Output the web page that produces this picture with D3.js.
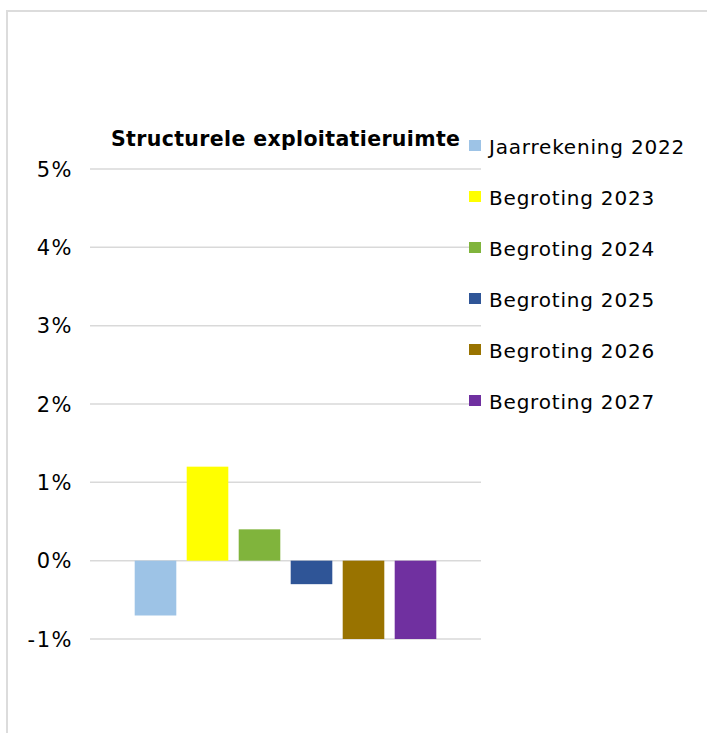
<!DOCTYPE html>
<meta charset="utf-8">

<!-- Load d3.js -->
<script src="https://d3js.org/d3.v7.min.js"></script>

<style>
body { margin: 0; background: #fff; }
text { font-family: "DejaVu Sans", Verdana, sans-serif; fill: #000; }
.grid line { stroke: #d9d9d9; stroke-width: 1.5px; }
</style>

<!-- Create a div where the graph will take place -->
<div id="my_dataviz"></div>

<script>

// data
var title = "Structurele exploitatieruimte"
var series = ["Jaarrekening 2022", "Begroting 2023", "Begroting 2024", "Begroting 2025", "Begroting 2026", "Begroting 2027"]
var values = [-0.7, 1.2, 0.4, -0.3, -1.0, -1.0]
var colors = ["#9dc3e6", "#ffff00", "#80b43c", "#2f5597", "#997300", "#7030a0"]
var yTicks = [-1, 0, 1, 2, 3, 4, 5]

var W = 707, H = 733

var svg = d3.select("#my_dataviz")
  .append("svg")
    .attr("width", W)
    .attr("height", H)

// chart border (top and left edge visible)
svg.append("rect")
    .attr("x", 7)
    .attr("y", 11)
    .attr("width", W + 20)
    .attr("height", H + 20)
    .style("fill", "none")
    .style("stroke", "#dcdcdc")
    .style("stroke-width", 2)

// plot area
var plotLeft = 90, plotRight = 481

// Y scale
var y = d3.scaleLinear()
  .domain([-1, 5])
  .range([639, 169])

// X scale: one category, six series side by side
var x = d3.scaleBand()
  .domain(series)
  .range([129.5, 441.5])
  .paddingInner(0.2)
  .paddingOuter(0.1)

// gridlines
svg.append("g")
    .attr("class", "grid")
  .selectAll("line")
  .data(yTicks)
  .enter()
  .append("line")
    .attr("x1", plotLeft)
    .attr("x2", plotRight)
    .attr("y1", function(d){ return y(d) })
    .attr("y2", function(d){ return y(d) })

// Y axis labels
svg.append("g")
  .selectAll("text")
  .data(yTicks)
  .enter()
  .append("text")
    .attr("x", 73)
    .attr("y", function(d){ return y(d) })
    .attr("dy", "0.36em")
    .attr("text-anchor", "end")
    .style("font-size", "21px")
    .style("letter-spacing", "1.5px")
    .text(function(d){ return d + "%" })

// bars
svg.append("g")
  .selectAll("rect")
  .data(values)
  .enter()
  .append("rect")
    .attr("x", function(d, i){ return x(series[i]) })
    .attr("width", x.bandwidth())
    .attr("y", function(d){ return y(Math.max(0, d)) })
    .attr("height", function(d){ return Math.abs(y(d) - y(0)) })
    .style("fill", function(d, i){ return colors[i] })

// title
svg.append("text")
    .attr("x", (plotLeft + plotRight) / 2)
    .attr("y", 146)
    .attr("text-anchor", "middle")
    .style("font-size", "20.5px")
    .style("font-weight", "bold")
    .attr("textLength", 349)
    .attr("lengthAdjust", "spacing")
    .text(title)

// legend
var legendTop = 146, legendStep = 51
var legend = svg.append("g")
  .selectAll("g")
  .data(series)
  .enter()
  .append("g")
    .attr("transform", function(d, i){ return "translate(469," + (legendTop + i * legendStep) + ")" })

legend.append("rect")
    .attr("x", 0)
    .attr("y", -6)
    .attr("width", 12)
    .attr("height", 11)
    .style("fill", function(d, i){ return colors[i] })

legend.append("text")
    .attr("x", 20)
    .attr("y", 7.5)
    .style("font-size", "20px")
    .style("letter-spacing", "0.8px")
    .text(function(d){ return d })

</script>
